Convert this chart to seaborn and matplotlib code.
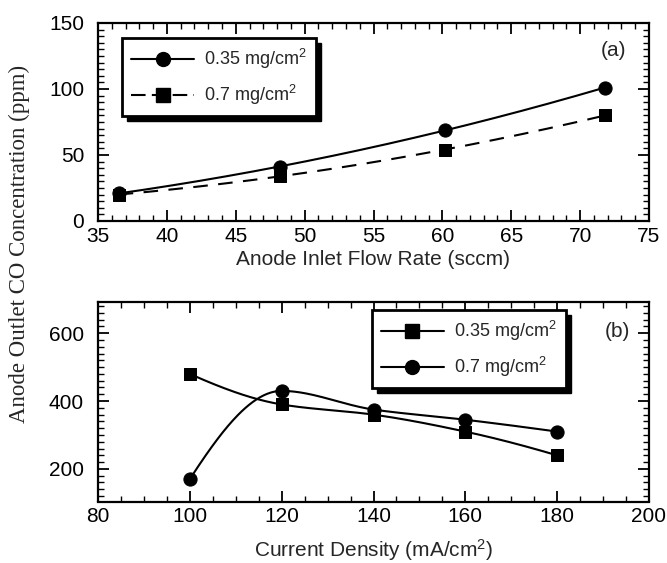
import numpy as np
import pandas as pd
import matplotlib
matplotlib.use("Agg")
import matplotlib.pyplot as plt
import seaborn as sns
from matplotlib.lines import Line2D
from matplotlib.patches import Rectangle
from matplotlib.ticker import MultipleLocator

# ---- data -------------------------------------------------------------
flow_rate = [36.5, 48.2, 60.2, 71.8]
co_flow_035 = [21, 41, 69, 101]
co_flow_07 = [20, 34, 54, 80]

current_density = [100, 120, 140, 160, 180]
co_cd_035 = [480, 390, 360, 310, 240]
co_cd_07 = [170, 430, 375, 345, 310]

label_035 = "0.35 mg/cm$^2$"
label_07 = "0.7 mg/cm$^2$"

sns.set_theme(style="ticks")
plt.rcParams["font.family"] = ["Liberation Sans", "DejaVu Sans"]
plt.rcParams["mathtext.fontset"] = "custom"
plt.rcParams["mathtext.rm"] = "Liberation Sans"
plt.rcParams["mathtext.it"] = "Liberation Sans:italic"
plt.rcParams["mathtext.bf"] = "Liberation Sans:bold"


def pchip_curve(x, y, n=300):
    """Shape-preserving piecewise cubic (Fritsch-Carlson) through the points."""
    x = np.asarray(x, float)
    y = np.asarray(y, float)
    h = np.diff(x)
    d = np.diff(y) / h
    k = len(x)
    m = np.zeros(k)
    for i in range(1, k - 1):
        if d[i - 1] * d[i] > 0:
            w1 = 2 * h[i] + h[i - 1]
            w2 = h[i] + 2 * h[i - 1]
            m[i] = (w1 + w2) / (w1 / d[i - 1] + w2 / d[i])
    m0 = ((2 * h[0] + h[1]) * d[0] - h[0] * d[1]) / (h[0] + h[1])
    if np.sign(m0) != np.sign(d[0]):
        m0 = 0
    elif np.sign(d[0]) != np.sign(d[1]) and abs(m0) > abs(3 * d[0]):
        m0 = 3 * d[0]
    m[0] = m0
    mn = ((2 * h[-1] + h[-2]) * d[-1] - h[-1] * d[-2]) / (h[-1] + h[-2])
    if np.sign(mn) != np.sign(d[-1]):
        mn = 0
    elif np.sign(d[-1]) != np.sign(d[-2]) and abs(mn) > abs(3 * d[-1]):
        mn = 3 * d[-1]
    m[-1] = mn
    xs = np.linspace(x[0], x[-1], n)
    ys = np.empty_like(xs)
    for j, xv in enumerate(xs):
        i = min(np.searchsorted(x, xv, side="right") - 1, k - 2)
        t = (xv - x[i]) / h[i]
        h00 = 2 * t ** 3 - 3 * t ** 2 + 1
        h10 = t ** 3 - 2 * t ** 2 + t
        h01 = -2 * t ** 3 + 3 * t ** 2
        h11 = t ** 3 - t ** 2
        ys[j] = h00 * y[i] + h10 * h[i] * m[i] + h01 * y[i + 1] + h11 * h[i] * m[i + 1]
    return xs, ys


def quad_curve(x, y, n=200):
    c = np.polyfit(x, y, 2)
    xs = np.linspace(min(x), max(x), n)
    return xs, np.polyval(c, xs)


fig = plt.figure(figsize=(6.67, 5.63), dpi=100)
ax1 = fig.add_axes([98 / 667, 1 - 221 / 563, 551 / 667, 198 / 563])
ax2 = fig.add_axes([98 / 667, 1 - 501.5 / 563, 551 / 667, 199.5 / 563])

# ---- panel (a) --------------------------------------------------------
xs, ys = quad_curve(flow_rate, co_flow_035)
sns.lineplot(x=xs, y=ys, ax=ax1, color="black", lw=1.5, estimator=None, sort=False)
xs, ys = quad_curve(flow_rate, co_flow_07)
sns.lineplot(x=xs, y=ys, ax=ax1, color="black", lw=1.5, estimator=None,
             sort=False, linestyle=(0, (7, 5)))
sns.scatterplot(x=flow_rate, y=co_flow_035, ax=ax1, color="black", marker="o",
                s=90, edgecolor="black", zorder=5)
sns.scatterplot(x=flow_rate, y=co_flow_07, ax=ax1, color="black", marker="s",
                s=80, edgecolor="black", zorder=5)
ax1.set_xlim(35, 75)
ax1.set_ylim(0, 150)
ax1.xaxis.set_major_locator(MultipleLocator(5))
ax1.xaxis.set_minor_locator(MultipleLocator(1))
ax1.yaxis.set_major_locator(MultipleLocator(50))
ax1.yaxis.set_minor_locator(MultipleLocator(5))
ax1.set_xlabel("Anode Inlet Flow Rate (sccm)", fontsize=15, labelpad=3)
ax1.set_ylabel("")
ax1.text(0.935, 0.86, "(a)", transform=ax1.transAxes, fontsize=15,
         ha="center", va="center")

legend_kw = dict(loc="upper left", fontsize=13, handlelength=3.5,
                 handletextpad=0.55, labelspacing=0.65, borderpad=0.5,
                 borderaxespad=0, fancybox=False, framealpha=1,
                 edgecolor="black")

h1 = [Line2D([], [], color="black", lw=1.5, marker="o", markersize=10),
      Line2D([], [], color="black", lw=1.5, marker="s", markersize=9.5,
             linestyle=(0, (7, 3)))]
leg1 = ax1.legend(h1, [label_035, label_07], bbox_to_anchor=(0.0436, 0.924),
                  **legend_kw)
leg1.get_frame().set_linewidth(2)

# ---- panel (b) --------------------------------------------------------
xs, ys = pchip_curve(current_density, co_cd_035)
sns.lineplot(x=xs, y=ys, ax=ax2, color="black", lw=1.5, estimator=None, sort=False)
xs, ys = pchip_curve(current_density, co_cd_07)
sns.lineplot(x=xs, y=ys, ax=ax2, color="black", lw=1.5, estimator=None, sort=False)
sns.scatterplot(x=current_density, y=co_cd_035, ax=ax2, color="black", marker="s",
                s=80, edgecolor="black", zorder=5)
sns.scatterplot(x=current_density, y=co_cd_07, ax=ax2, color="black", marker="o",
                s=90, edgecolor="black", zorder=5)
ax2.set_xlim(80, 200)
ax2.set_ylim(104, 692)
ax2.xaxis.set_major_locator(MultipleLocator(20))
ax2.xaxis.set_minor_locator(MultipleLocator(5))
ax2.yaxis.set_major_locator(MultipleLocator(200))
ax2.yaxis.set_minor_locator(MultipleLocator(20))
ax2.set_xlabel("Current Density (mA/cm$^2$)", fontsize=15, labelpad=8)
ax2.set_ylabel("")
ax2.text(0.942, 0.85, "(b)", transform=ax2.transAxes, fontsize=15,
         ha="center", va="center")

h2 = [Line2D([], [], color="black", lw=1.5, marker="s", markersize=9.5),
      Line2D([], [], color="black", lw=1.5, marker="o", markersize=10)]
leg2 = ax2.legend(h2, [label_035, label_07], bbox_to_anchor=(0.497, 0.96),
                  **legend_kw)
leg2.get_frame().set_linewidth(2)

for ax in (ax1, ax2):
    for s in ax.spines.values():
        s.set_linewidth(1.6)
        s.set_color("black")
        s.set_visible(True)
    ax.tick_params(which="both", direction="in", top=True, right=True,
                   colors="black", labelsize=15)
    ax.tick_params(axis="x", which="major", length=8, width=1.3, pad=4)
    ax.tick_params(axis="y", which="major", length=8, width=1.3, pad=10)
    ax.tick_params(which="minor", length=4, width=1.0)
    ax.set_facecolor("white")

fig.text(19 / 667, 1 - 244 / 563, "Anode Outlet CO Concentration (ppm)",
         rotation=90, ha="center", va="center", fontsize=16.5,
         family=["Liberation Serif", "DejaVu Serif"])

# thick offset shadows behind the legend boxes
fig.canvas.draw()
for ax, leg in ((ax1, leg1), (ax2, leg2)):
    bb = leg.get_frame().get_window_extent()
    off = 5
    inv = fig.transFigure.inverted()
    (x0, y0), (x1, y1) = inv.transform([(bb.x0 + off, bb.y0 - off),
                                        (bb.x1 + off, bb.y1 - off)])
    shadow = Rectangle((x0, y0), x1 - x0, y1 - y0, transform=fig.transFigure,
                       facecolor="black", edgecolor="black")
    shadow.set_clip_on(False)
    ax.add_artist(shadow)
    leg.set_zorder(10)
    shadow.set_zorder(9)

fig.savefig("out.png", dpi=100, facecolor="white")
